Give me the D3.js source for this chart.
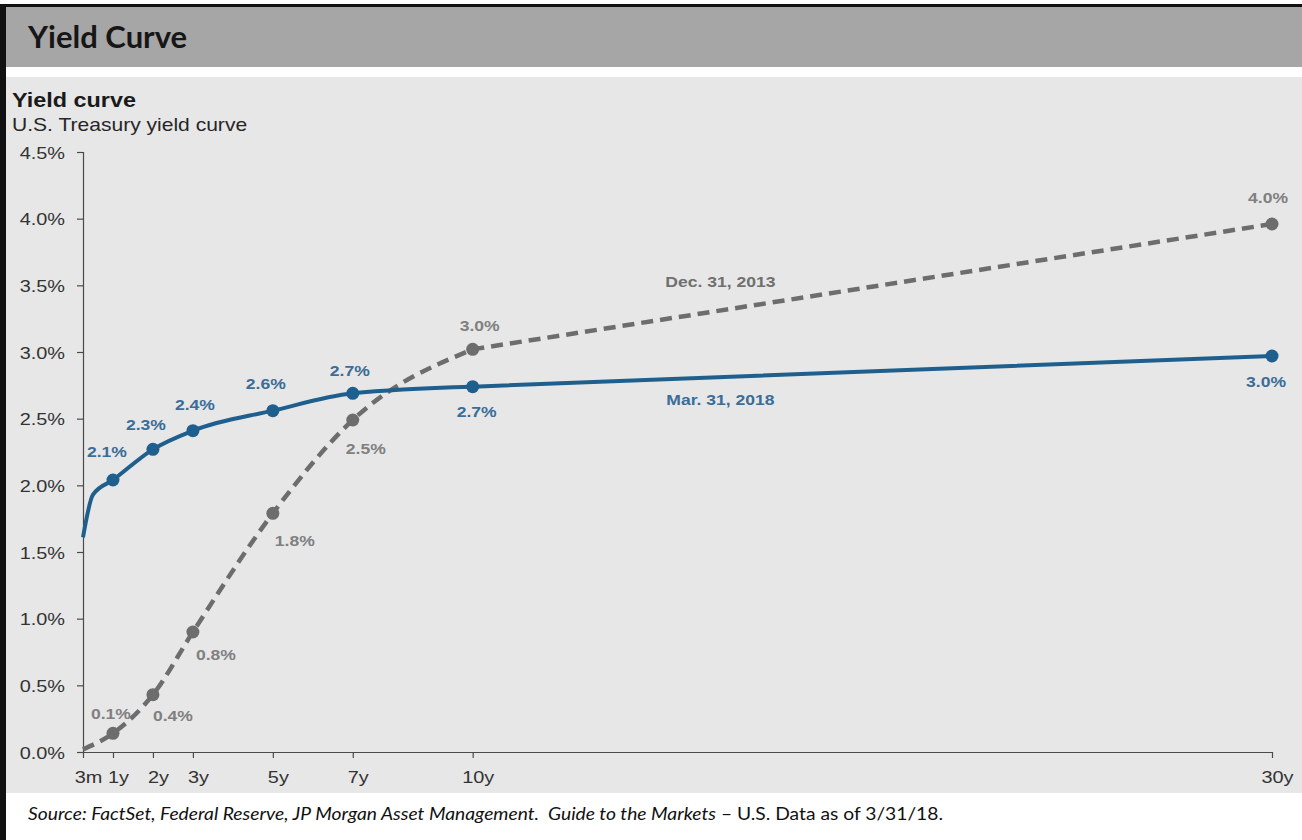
<!DOCTYPE html>
<html>
<head>
<meta charset="utf-8">
<script src="https://cdn.jsdelivr.net/npm/d3@7"></script>
<style>
  html, body { margin: 0; padding: 0; background: #ffffff; }
  svg { display: block; }
</style>
</head>
<body>
<div id="chart"></div>
<script>
// ---------- data ----------
const maturities     = [0.25, 1, 2, 3, 5, 7, 10, 30];
const maturityLabels = ["3m", "1y", "2y", "3y", "5y", "7y", "10y", "30y"];
const yTicks = [0, 0.5, 1.0, 1.5, 2.0, 2.5, 3.0, 3.5, 4.0, 4.5];

// Mar. 31, 2018 curve (includes the 6m point)
const mar2018Maturity = [0.25, 0.5, 1, 2, 3, 5, 7, 10, 30];
const mar2018Yield    = [1.61, 1.93, 2.04, 2.27, 2.41, 2.56, 2.69, 2.74, 2.97];
const mar2018Dots     = [1, 2, 3, 5, 7, 10, 30];
const mar2018Labels   = ["2.1%", "2.3%", "2.4%", "2.6%", "2.7%", "2.7%", "3.0%"];

// Dec. 31, 2013 curve
const dec2013Maturity = [0.25, 1, 2, 3, 5, 7, 10, 30];
const dec2013Yield    = [0.02, 0.14, 0.43, 0.90, 1.79, 2.49, 3.02, 3.96];
const dec2013Dots     = [1, 2, 3, 5, 7, 10, 30];
const dec2013Labels   = ["0.1%", "0.4%", "0.8%", "1.8%", "2.5%", "3.0%", "4.0%"];

const seriesNames = ["Mar. 31, 2018", "Dec. 31, 2013"];

// ---------- layout / style ----------
const W = 1302, H = 840;
const SX = 1.17;                 // horizontal stretch of the reference text
const FONT = "'Liberation Sans', Arial, sans-serif";
const BLUE = "#1f5f8e", BLUE_TXT = "#3a6d98";
const GRAY = "#6d6d6d", GRAY_TXT = "#808080";
const SMOOTH_MAX = 10;           // smoothed up to 10y, straight to 30y

const svg = d3.select("#chart").append("svg")
  .attr("width", W).attr("height", H);

// frame and panels
svg.append("rect").attr("x", 0).attr("y", 0).attr("width", W).attr("height", H).attr("fill", "#ffffff");
svg.append("rect").attr("x", 6).attr("y", 7).attr("width", W - 6).attr("height", 60).attr("fill", "#a6a6a6");
svg.append("rect").attr("x", 6).attr("y", 77).attr("width", W - 6).attr("height", 716).attr("fill", "#e7e7e7");
svg.append("rect").attr("x", 0).attr("y", 4).attr("width", W).attr("height", 3).attr("fill", "#111");
svg.append("rect").attr("x", 0).attr("y", 4).attr("width", 6).attr("height", H - 4).attr("fill", "#111");

// headline
svg.append("text").attr("x", 28).attr("y", 48)
  .attr("font-family", "Lato, 'Open Sans', sans-serif").attr("font-weight", 700)
  .attr("font-size", 31).attr("fill", "#161616").text("Yield Curve");

function stretchText(parent, x, y, txt, opts) {
  const t = parent.append("text")
    .attr("transform", `translate(${x},${y}) scale(${SX},1)`)
    .attr("font-family", FONT)
    .attr("font-size", opts.size)
    .attr("font-weight", opts.weight || 400)
    .attr("fill", opts.fill || "#222")
    .attr("text-anchor", opts.anchor || "start")
    .attr("dy", opts.dy || 0)
    .text(txt);
  return t;
}

stretchText(svg, 12, 107, "Yield curve", {size: 20, weight: 700, fill: "#1a1a1a"});
stretchText(svg, 12, 131, "U.S. Treasury yield curve", {size: 18, fill: "#262626"});

// ---------- scales ----------
const x = d3.scaleLinear().domain([0.25, 30]).range([83, 1272]);
const y = d3.scaleLinear().domain([0, 4.5]).range([752, 152]);

// axes
const yAxis = d3.axisLeft(y).tickValues(yTicks).tickSize(6).tickSizeOuter(6)
  .tickFormat(d => d.toFixed(1) + "%");
const gy = svg.append("g").attr("transform", `translate(${x.range()[0]},0)`).call(yAxis);
gy.select(".domain").attr("stroke", "#4a4a4a").attr("stroke-width", 1.2);
gy.selectAll(".tick line").attr("stroke", "#4a4a4a").attr("stroke-width", 1.2);
gy.selectAll(".tick text")
  .attr("x", 0).attr("dy", "0.36em")
  .attr("transform", `translate(-18,0) scale(${SX},1)`)
  .attr("font-family", FONT).attr("font-size", 17).attr("fill", "#333");

const labelOf = d3.scaleOrdinal().domain(maturities).range(maturityLabels);
const xAxis = d3.axisBottom(x).tickValues(maturities).tickSize(6).tickSizeOuter(0)
  .tickFormat(d => labelOf(d));
const gx = svg.append("g").attr("transform", `translate(0,${y.range()[0]})`).call(xAxis);
gx.select(".domain").attr("stroke", "#4a4a4a").attr("stroke-width", 1.2);
gx.selectAll(".tick line").attr("stroke", "#4a4a4a").attr("stroke-width", 1.2);
gx.selectAll(".tick text")
  .attr("y", 0).attr("dy", 0)
  .attr("transform", `translate(5,31) scale(${SX},1)`)
  .attr("font-family", FONT).attr("font-size", 17).attr("fill", "#333");

// ---------- lines ----------
const smooth = d3.line().x(d => x(d.t)).y(d => y(d.v)).curve(d3.curveMonotoneX);
function curvePath(data) {
  const head = data.filter(d => d.t <= SMOOTH_MAX);
  const tail = data.filter(d => d.t > SMOOTH_MAX);
  return smooth(head) + tail.map(d => `L${x(d.t)},${y(d.v)}`).join("");
}
const decData = dec2013Maturity.map((t, i) => ({t, v: dec2013Yield[i]}));
const marData = mar2018Maturity.map((t, i) => ({t, v: mar2018Yield[i]}));

svg.append("path").attr("d", curvePath(decData))
  .attr("fill", "none").attr("stroke", GRAY).attr("stroke-width", 4.5)
  .attr("stroke-dasharray", "12,7");
svg.append("path").attr("d", curvePath(marData))
  .attr("fill", "none").attr("stroke", BLUE).attr("stroke-width", 4);

const decDots = decData.filter(d => dec2013Dots.includes(d.t));
const marDots = marData.filter(d => mar2018Dots.includes(d.t));

svg.append("g").selectAll("circle").data(decDots).join("circle")
  .attr("cx", d => x(d.t)).attr("cy", d => y(d.v)).attr("r", 6.5).attr("fill", GRAY);
svg.append("g").selectAll("circle").data(marDots).join("circle")
  .attr("cx", d => x(d.t)).attr("cy", d => y(d.v)).attr("r", 6.5).attr("fill", BLUE);

// ---------- data labels ----------
const marOffsets = [[-6,-28],[-7,-25],[2,-26],[-7,-27],[-3,-23],[4,25],[-6,26]];
const decOffsets = [[-2,-20],[20,21],[23,23],[22,27],[13,29],[7,-24],[-4,-26]];

marDots.forEach((d, i) => {
  stretchText(svg, x(d.t) + marOffsets[i][0], y(d.v) + marOffsets[i][1], mar2018Labels[i],
    {size: 15, weight: 700, fill: BLUE_TXT, anchor: "middle", dy: "0.36em"});
});
decDots.forEach((d, i) => {
  stretchText(svg, x(d.t) + decOffsets[i][0], y(d.v) + decOffsets[i][1], dec2013Labels[i],
    {size: 15, weight: 700, fill: GRAY_TXT, anchor: "middle", dy: "0.36em"});
});

// series name annotations (placed in data coordinates)
stretchText(svg, x(16.2), y(2.64), seriesNames[0],
  {size: 15, weight: 700, fill: BLUE_TXT, anchor: "middle", dy: "0.36em"});
stretchText(svg, x(16.2), y(3.53), seriesNames[1],
  {size: 15, weight: 700, fill: "#707070", anchor: "middle", dy: "0.36em"});

// ---------- source ----------
const src = svg.append("text").attr("x", 28).attr("y", 820)
  .style("white-space", "pre")
  .attr("font-family", "Lato, 'Open Sans', sans-serif").attr("font-size", 16.5).attr("fill", "#111")
  .attr("textLength", 915).attr("lengthAdjust", "spacingAndGlyphs");
src.append("tspan").attr("font-style", "italic")
  .text("Source: FactSet, Federal Reserve, JP Morgan Asset Management.  Guide to the Markets");
src.append("tspan").text(" \u2013 U.S. Data as of 3/31/18.");
</script>
</body>
</html>
